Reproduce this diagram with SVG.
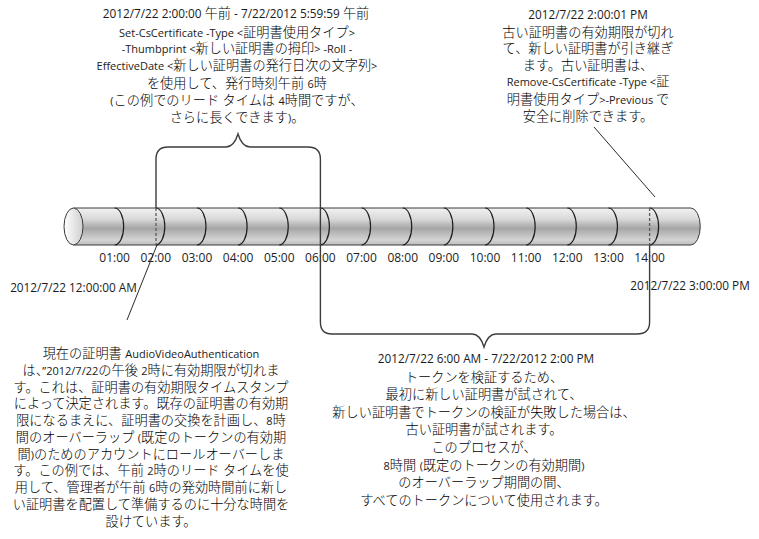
<svg xmlns="http://www.w3.org/2000/svg" width="759" height="539" viewBox="0 0 759 539">
  <defs>
    <linearGradient id="tubeShade" x1="0" y1="0" x2="0" y2="1">
      <stop offset="0" stop-color="#f2f2f2"/>
      <stop offset="0.3" stop-color="#d9d9d9"/>
      <stop offset="0.55" stop-color="#a5a5a5"/>
      <stop offset="0.63" stop-color="#b2b2b2"/>
      <stop offset="0.86" stop-color="#d3d3d3"/>
      <stop offset="1" stop-color="#bdbdbd"/>
    </linearGradient>
    <linearGradient id="capShade" x1="0" y1="0" x2="1" y2="0">
      <stop offset="0" stop-color="#ffffff"/>
      <stop offset="1" stop-color="#cfcfcf"/>
    </linearGradient>
  </defs>
  <style>
    .tube { fill: url(#tubeShade); stroke: #3a3a3a; stroke-width: 1; }
    .cap { fill: url(#capShade); stroke: #3a3a3a; stroke-width: 1; }
    .seg { fill: none; stroke: #1e1e1e; stroke-width: 1.2; }
    .dash { fill: none; stroke: #5a5a5a; stroke-width: 1.3; stroke-dasharray: 3 2; }
    .line { fill: none; stroke: #3c3c3c; stroke-width: 1.4; }
    .thin { fill: none; stroke: #2a2a2a; stroke-width: 1; }
    .txt { font-family: "Open Sans", "Noto Sans CJK JP", sans-serif; font-size: 13.2px; font-weight: 300; fill: #000; text-anchor: middle; }
    .l { font-size: 11px; font-weight: 400; fill: #1a1a1a; }
    .d { font-size: 11.8px; font-weight: 400; fill: #1a1a1a; }
    .hr { font-family: "Open Sans", sans-serif; font-size: 12px; fill: #222; text-anchor: middle; }
    .ts { font-family: "Open Sans", sans-serif; font-size: 11.8px; fill: #1a1a1a; text-anchor: middle; }
  </style>

  <!-- timeline tube, 01:00 .. 14:00 -->
  <g id="timeline">
    <path class="tube" d="M73.5,208 L690.75,208 A9.5,18.5 0 0 1 690.75,245 L73.5,245 Z"/>
    <ellipse class="cap" cx="73.5" cy="226.5" rx="9.5" ry="18.5"/>
    <path class="seg" d="M114.65,208 A9,18.5 0 0 1 114.65,245"/>
    <path class="seg" d="M155.8,208 A9,18.5 0 0 1 155.8,245"/>
    <path class="seg" d="M196.95,208 A9,18.5 0 0 1 196.95,245"/>
    <path class="seg" d="M238.1,208 A9,18.5 0 0 1 238.1,245"/>
    <path class="seg" d="M279.25,208 A9,18.5 0 0 1 279.25,245"/>
    <path class="seg" d="M320.4,208 A9,18.5 0 0 1 320.4,245"/>
    <path class="seg" d="M361.55,208 A9,18.5 0 0 1 361.55,245"/>
    <path class="seg" d="M402.7,208 A9,18.5 0 0 1 402.7,245"/>
    <path class="seg" d="M443.85,208 A9,18.5 0 0 1 443.85,245"/>
    <path class="seg" d="M485,208 A9,18.5 0 0 1 485,245"/>
    <path class="seg" d="M526.15,208 A9,18.5 0 0 1 526.15,245"/>
    <path class="seg" d="M567.3,208 A9,18.5 0 0 1 567.3,245"/>
    <path class="seg" d="M608.45,208 A9,18.5 0 0 1 608.45,245"/>
    <path class="seg" d="M649.6,208 A9,18.5 0 0 1 649.6,245"/>
  </g>

  <g id="hours">
    <text class="hr" x="114.65" y="262">01:00</text>
    <text class="hr" x="155.8" y="262">02:00</text>
    <text class="hr" x="196.95" y="262">03:00</text>
    <text class="hr" x="238.1" y="262">04:00</text>
    <text class="hr" x="279.25" y="262">05:00</text>
    <text class="hr" x="320.4" y="262">06:00</text>
    <text class="hr" x="361.55" y="262">07:00</text>
    <text class="hr" x="402.7" y="262">08:00</text>
    <text class="hr" x="443.85" y="262">09:00</text>
    <text class="hr" x="485" y="262">10:00</text>
    <text class="hr" x="526.15" y="262">11:00</text>
    <text class="hr" x="567.3" y="262">12:00</text>
    <text class="hr" x="608.45" y="262">13:00</text>
    <text class="hr" x="649.6" y="262">14:00</text>
  </g>

  <g id="start-stamp">
    <text class="ts" x="73.5" y="292">2012/7/22 12:00:00 AM</text>
  </g>
  <g id="end-stamp">
    <text class="ts" x="690" y="290">2012/7/22 3:00:00 PM</text>
  </g>

  <g id="connectors">
    <!-- lead-time brace, 02:00 to 06:00 -->
    <path class="line" d="M156,208 L156,159 Q156,147 168,147 L226,147 Q234,147 238,134 Q242,147 250,147 L308,147 Q320.4,147 320.4,159 L320.4,245"/>
    <!-- overlap brace, 06:00 to 14:00 -->
    <path class="line" d="M320.4,245 L320.4,322 Q320.4,334 332,334 L472,334 Q480,334 484,347 Q488,334 496,334 L637,334 Q649.6,334 649.6,322 L649.6,245"/>
    <line class="dash" x1="156" y1="208" x2="156" y2="245"/>
    <line class="dash" x1="649.6" y1="208" x2="649.6" y2="245"/>
    <line class="thin" x1="157" y1="245" x2="127" y2="320"/>
    <line class="thin" x1="594" y1="127" x2="655" y2="197"/>
  </g>

  <g id="note-leadtime">
    <text class="txt" x="236" y="18"><tspan class="d">2012/7/22 2:00:00 </tspan>午前<tspan class="d"> - 7/22/2012 5:59:59 </tspan>午前</text>
    <text class="txt" x="237" y="36.5"><tspan class="l">Set-CsCertificate -Type &lt;</tspan>証明書使用タイプ<tspan class="l">&gt;</tspan></text>
    <text class="txt" x="237" y="52.5"><tspan class="l">-Thumbprint &lt;</tspan>新しい証明書の拇印<tspan class="l">&gt;  -Roll -</tspan></text>
    <text class="txt" x="237" y="69.5"><tspan class="l">EffectiveDate &lt;</tspan>新しい証明書の発行日次の文字列<tspan class="l">&gt;</tspan></text>
    <text class="txt" x="237" y="87.5">を使用して、発行時刻午前 <tspan class="l">6</tspan>時</text>
    <text class="txt" x="237" y="104.5"><tspan class="l">(</tspan>この例でのリード タイムは <tspan class="l">4</tspan>時間ですが、</text>
    <text class="txt" x="237" y="121.5">さらに長くできます<tspan class="l">)</tspan>。</text>
  </g>

  <g id="note-expiry">
    <text class="txt" x="588" y="19"><tspan class="d">2012/7/22 2:00:01 PM</tspan></text>
    <text class="txt" x="588" y="37">古い証明書の有効期限が切れ</text>
    <text class="txt" x="588" y="53">て、新しい証明書が引き継ぎ</text>
    <text class="txt" x="588" y="69.5">ます。古い証明書は、</text>
    <text class="txt" x="588" y="85.5"><tspan class="l">Remove-CsCertificate -Type &lt;</tspan>証</text>
    <text class="txt" x="588" y="103.5">明書使用タイプ<tspan class="l">&gt;-Previous </tspan>で</text>
    <text class="txt" x="588" y="120.5">安全に削除できます。</text>
  </g>

  <g id="note-current">
    <text class="txt" x="151" y="358">現在の証明書 <tspan class="l">AudioVideoAuthentication</tspan></text>
    <text class="txt" x="151" y="374.75">は、<tspan class="l">”2012/7/22</tspan>の午後 <tspan class="l">2</tspan>時に有効期限が切れま</text>
    <text class="txt" x="151" y="391.5">す。これは、証明書の有効期限タイムスタンプ</text>
    <text class="txt" x="151" y="408.25">によって決定されます。既存の証明書の有効期</text>
    <text class="txt" x="151" y="425">限になるまえに、証明書の交換を計画し、<tspan class="l">8</tspan>時</text>
    <text class="txt" x="151" y="441.75">間のオーバーラップ <tspan class="l">(</tspan>既定のトークンの有効期</text>
    <text class="txt" x="151" y="458.5">間<tspan class="l">)</tspan>のためのアカウントにロールオーバーしま</text>
    <text class="txt" x="151" y="475.25">す。この例では、午前 <tspan class="l">2</tspan>時のリード タイムを使</text>
    <text class="txt" x="151" y="492">用して、管理者が午前 <tspan class="l">6</tspan>時の発効時間前に新し</text>
    <text class="txt" x="151" y="508.75">い証明書を配置して準備するのに十分な時間を</text>
    <text class="txt" x="151" y="525.5">設けています。</text>
  </g>

  <g id="note-overlap">
    <text class="txt" x="486" y="363"><tspan class="d">2012/7/22 6:00 AM - 7/22/2012 2:00 PM</tspan></text>
    <text class="txt" x="484" y="381.5">トークンを検証するため、</text>
    <text class="txt" x="484" y="399.1">最初に新しい証明書が試されて、</text>
    <text class="txt" x="484" y="416.7">新しい証明書でトークンの検証が失敗した場合は、</text>
    <text class="txt" x="484" y="434.3">古い証明書が試されます。</text>
    <text class="txt" x="484" y="451.9">このプロセスが、</text>
    <text class="txt" x="484" y="469.5"><tspan class="l">8</tspan>時間 <tspan class="l">(</tspan>既定のトークンの有効期間<tspan class="l">)</tspan></text>
    <text class="txt" x="484" y="487.1">のオーバーラップ期間の間、</text>
    <text class="txt" x="484" y="504.7">すべてのトークンについて使用されます。</text>
  </g>
</svg>
